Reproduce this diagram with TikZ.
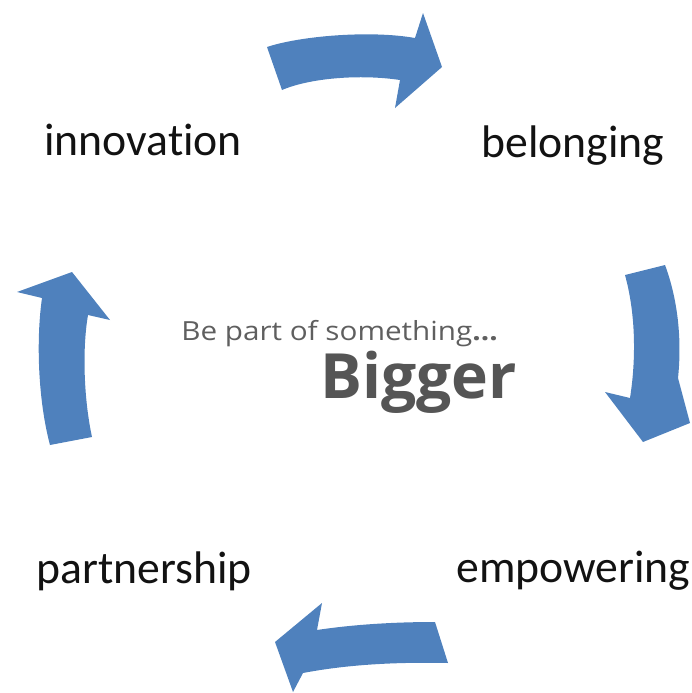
\documentclass[tikz,border=0pt]{standalone}
\usepackage{fontspec}
\usepackage{graphicx}
\setmainfont{Carlito}[Ligatures=NoCommon]
\newfontfamily\slogan{Open Sans}
\usetikzlibrary{positioning}
\definecolor{arrowblue}{RGB}{79,129,189}
\definecolor{slogangray}{RGB}{95,95,95}
\definecolor{biggergray}{RGB}{85,85,85}

\begin{document}
\begin{tikzpicture}[
        x=0.02cm, y=-0.02cm,
        word/.style={anchor=base west, inner sep=0pt, font=\fontsize{26}{30}\selectfont, text=black!93},
        bentarrow/.style={fill=arrowblue, draw=none}
    ]
        \useasboundingbox (0,0) rectangle (691,693);

        % Labels
        \node[word] (innov) at (44,155) {innovation};
        \node[word] (belong) at (481,157) {belonging};
        \node[word] (partner) at (36,583) {partnership};
        \node[word] (empower) at (456,582) {empowering};

        % Centre text
        \node[anchor=base west, inner sep=0pt, text=slogangray,
              font=\slogan\fontsize{15}{18}\selectfont] (tagline) at (181,340)
            {\scalebox{1.125}[1]{Be part of something\textbf{...}}};
        \node[anchor=base west, inner sep=0pt, text=biggergray,
              font=\slogan\bfseries\fontsize{35.5}{42}\selectfont] (bigger) at (320,398) {Bigger};

        % Top arrow
        \fill[bentarrow] (267,47) .. controls (300,36) and (370,30) .. (415,38)
            -- (423,13) -- (442,67) -- (395,108) -- (400,80)
            .. controls (360,74) and (310,78) .. (282,90) -- cycle;

        % Right arrow
        \fill[bentarrow] (665,265) .. controls (678,300) and (682,340) .. (678,378)
            -- (690,423) -- (643,442) -- (605,392) -- (630,398)
            .. controls (636,360) and (636,315) .. (625,275) -- cycle;

        % Bottom arrow
        \fill[bentarrow] (435,622) .. controls (390,622) and (350,625) .. (317,630)
            -- (322,603) -- (275,642) -- (293,692) -- (303,673)
            .. controls (350,664) and (400,662) .. (448,663) -- cycle;

        % Left arrow
        \fill[bentarrow] (50,445) .. controls (38,400) and (36,340) .. (42,298)
            -- (17,292) -- (72,272) -- (110,320) -- (88,315)
            .. controls (82,350) and (84,400) .. (92,437) -- cycle;
    \end{tikzpicture}
\end{document}
